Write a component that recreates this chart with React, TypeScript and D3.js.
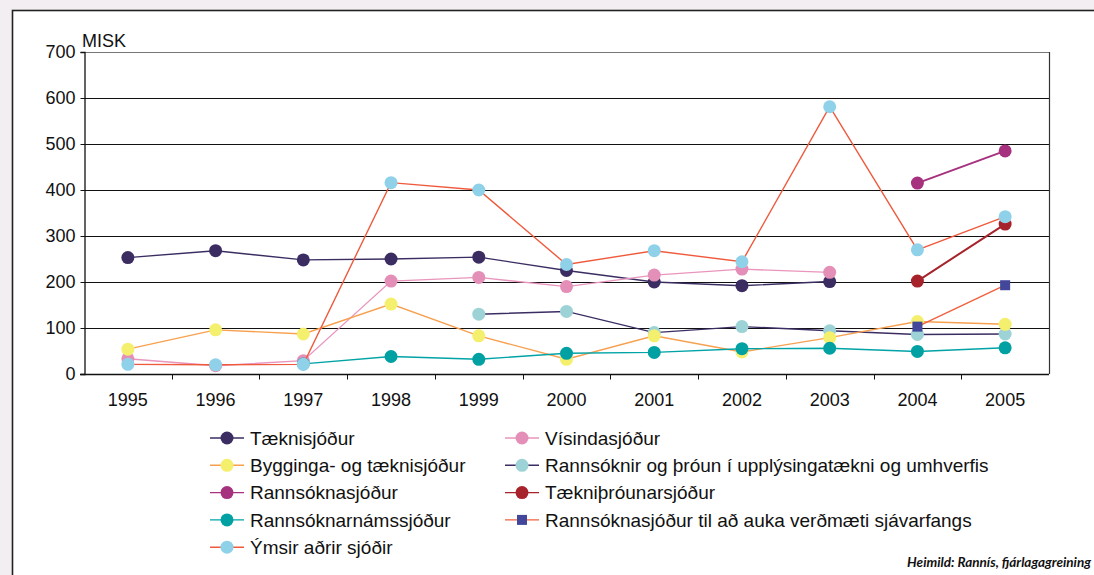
import { useEffect, useRef } from 'react';
import * as d3 from 'd3';

const years = ['1995', '1996', '1997', '1998', '1999', '2000', '2001', '2002', '2003', '2004', '2005'];
const yTicks = [0, 100, 200, 300, 400, 500, 600, 700];

// values in MISK, null = no data that year
const taeknisjodur = [253, 268, 248, 250, 254, 225, 200, 192, 201, null, null];
const visindasjodur = [33, 18, 29, 202, 210, 190, 215, 228, 221, null, null];
const bygginga = [54, 96, 87, 152, 83, 32, 83, 48, 79, 114, 108];
const upplysingataekni = [null, null, null, null, 130, 136, 90, 103, 94, 86, 87];
const rannsoknasjodur = [null, null, null, null, null, null, null, null, null, 415, 485];
const taeknithrounar = [null, null, null, null, null, null, null, null, null, 202, 326];
const rannsoknarnams = [null, null, 22, 38, 32, 45, 47, 55, 56, 49, 57];
const sjavarfangs = [null, null, null, null, null, null, null, null, null, 103, 193];
const ymsir = [21, 20, 21, 416, 400, 238, 268, 244, 581, 270, 342];

interface Series {
  name: string;
  values: (number | null)[];
  line: string;
  marker: string;
  square?: boolean;
}

const series: Series[] = [
  { name: 'Tæknisjóður', values: taeknisjodur, line: '#3b2d62', marker: '#3b2d62' },
  { name: 'Vísindasjóður', values: visindasjodur, line: '#e995bd', marker: '#e48fb8' },
  { name: 'Rannsóknir og þróun í upplýsingatækni og umhverfis', values: upplysingataekni, line: '#3b2d62', marker: '#9dd3d6' },
  { name: 'Bygginga- og tæknisjóður', values: bygginga, line: '#f7a04f', marker: '#f5ef6e' },
  { name: 'Rannsóknasjóður', values: rannsoknasjodur, line: '#a6327f', marker: '#a6327f' },
  { name: 'Tækniþróunarsjóður', values: taeknithrounar, line: '#a6232b', marker: '#a6232b' },
  { name: 'Rannsóknarnámssjóður', values: rannsoknarnams, line: '#00a3a6', marker: '#00a0a3' },
  { name: 'Rannsóknasjóður til að auka verðmæti sjávarfangs', values: sjavarfangs, line: '#f0603f', marker: '#43479b', square: true },
  { name: 'Ýmsir aðrir sjóðir', values: ymsir, line: '#ef5a3c', marker: '#90d1ea' },
];

// legend order: left column then right column
const legendLeft = ['Tæknisjóður', 'Bygginga- og tæknisjóður', 'Rannsóknasjóður', 'Rannsóknarnámssjóður', 'Ýmsir aðrir sjóðir'];
const legendRight = ['Vísindasjóður', 'Rannsóknir og þróun í upplýsingatækni og umhverfis', 'Tækniþróunarsjóður', 'Rannsóknasjóður til að auka verðmæti sjávarfangs'];

const font = '"Liberation Sans", Arial, sans-serif';

const App = () => {
  const svgRef = useRef<SVGSVGElement | null>(null);

  useEffect(() => {
    if (!svgRef.current) return;
    const svg = d3.select(svgRef.current);
    svg.selectAll('*').remove();

    const width = 1094;
    const height = 575;
    const margin = { top: 52, right: 45, bottom: 201, left: 84 };

    // background + framed panel
    svg.append('rect').attr('width', width).attr('height', height).attr('fill', '#f2eef1');
    svg.append('rect')
      .attr('x', 12.5).attr('y', 10.5)
      .attr('width', width + 20).attr('height', height + 20)
      .attr('fill', '#fff').attr('stroke', '#222').attr('stroke-width', 1.6);

    const x = d3.scaleBand().domain(years).range([margin.left, width - margin.right]);
    const y = d3.scaleLinear().domain([0, 700]).range([height - margin.bottom, margin.top]);
    const cx = (yr: string) => (x(yr) as number) + x.bandwidth() / 2;

    // gridlines
    svg.append('g')
      .selectAll('line')
      .data(yTicks.slice(1))
      .join('line')
      .attr('x1', margin.left).attr('x2', width - margin.right)
      .attr('y1', d => Math.round(y(d)) + 0.5).attr('y2', d => Math.round(y(d)) + 0.5)
      .attr('stroke', (d) => (d === 700 ? '#777' : '#111'))
      .attr('stroke-width', 1.1);

    // right border of plot
    svg.append('line')
      .attr('x1', width - margin.right + 0.5).attr('x2', width - margin.right + 0.5)
      .attr('y1', y(700)).attr('y2', y(0))
      .attr('stroke', '#333').attr('stroke-width', 1.2);

    // y axis
    const yAxis = d3.axisLeft(y).tickValues(yTicks).tickSize(4).tickPadding(5).tickFormat(d3.format('d'));
    const gy = svg.append('g').attr('transform', `translate(${margin.left + 0.5},0)`).call(yAxis);
    gy.select('.domain').attr('stroke', '#111').attr('stroke-width', 1.3);
    gy.selectAll('.tick line').attr('stroke', '#111');
    gy.selectAll('.tick text').attr('font-family', font).attr('font-size', 18).attr('fill', '#111');

    // x axis: ticks at band boundaries
    const gx = svg.append('g').attr('transform', `translate(0,${Math.round(y(0)) + 0.5})`);
    gx.append('line')
      .attr('x1', margin.left - 4).attr('x2', width - margin.right)
      .attr('stroke', '#111').attr('stroke-width', 1.3);
    gx.selectAll('line.tk')
      .data(years.slice(1))
      .join('line')
      .attr('class', 'tk')
      .attr('x1', d => Math.round(x(d) as number) + 0.5)
      .attr('x2', d => Math.round(x(d) as number) + 0.5)
      .attr('y1', 0).attr('y2', 5)
      .attr('stroke', '#111');
    gx.selectAll('text')
      .data(years)
      .join('text')
      .attr('x', d => cx(d))
      .attr('y', 31)
      .attr('text-anchor', 'middle')
      .attr('font-family', font).attr('font-size', 18).attr('fill', '#111')
      .text(d => d);

    svg.append('text')
      .attr('x', 82).attr('y', 47)
      .attr('font-family', font).attr('font-size', 18).attr('fill', '#111')
      .text('MISK');

    // series
    const line = d3.line<number | null>()
      .defined(d => d !== null)
      .x((_, i) => cx(years[i]))
      .y(d => y(d as number));

    series.forEach(s => {
      const g = svg.append('g');
      g.append('path')
        .attr('d', line(s.values))
        .attr('fill', 'none')
        .attr('stroke', s.line)
        .attr('stroke-width', s.name === 'Rannsóknasjóður' || s.name === 'Tækniþróunarsjóður' ? 2 : 1.4);
      const pts = s.values.map((v, i) => ({ v, yr: years[i] })).filter(p => p.v !== null);
      if (s.square) {
        g.selectAll('rect').data(pts).join('rect')
          .attr('x', p => cx(p.yr) - 5).attr('y', p => y(p.v as number) - 5)
          .attr('width', 10).attr('height', 10)
          .attr('fill', s.marker);
      } else {
        g.selectAll('circle').data(pts).join('circle')
          .attr('cx', p => cx(p.yr)).attr('cy', p => y(p.v as number))
          .attr('r', 6.5)
          .attr('fill', s.marker);
      }
    });

    // legend
    const rowY = (i: number) => 438 + i * 27.3;
    const drawLegend = (names: string[], x0: number) => {
      names.forEach((name, i) => {
        const s = series.find(d => d.name === name) as Series;
        const g = svg.append('g').attr('transform', `translate(${x0},${rowY(i)})`);
        g.append('line').attr('x1', 0).attr('x2', 34).attr('stroke', s.line).attr('stroke-width', 1.4);
        if (s.square) {
          g.append('rect').attr('x', 12).attr('y', -5).attr('width', 10).attr('height', 10).attr('fill', s.marker);
        } else {
          g.append('circle').attr('cx', 17).attr('r', 6.5).attr('fill', s.marker);
        }
        g.append('text')
          .attr('x', 40).attr('dy', '0.36em')
          .attr('font-family', font).attr('font-size', 19).attr('fill', '#111')
          .text(name);
      });
    };
    drawLegend(legendLeft, 210);
    drawLegend(legendRight, 505);

    svg.append('text')
      .attr('x', 1091).attr('y', 567)
      .attr('text-anchor', 'end')
      .attr('font-family', 'Lato, sans-serif')
      .attr('font-style', 'italic').attr('font-weight', 'bold')
      .attr('font-size', 13.5).attr('fill', '#111')
      .text('Heimild: Rannís, fjárlagagreining');
  }, []);

  return (
    <>
      <style>{'body{margin:0}'}</style>
      <svg ref={svgRef} width="1094" height="575" style={{ display: 'block' }}></svg>
    </>
  );
};

export default App;
